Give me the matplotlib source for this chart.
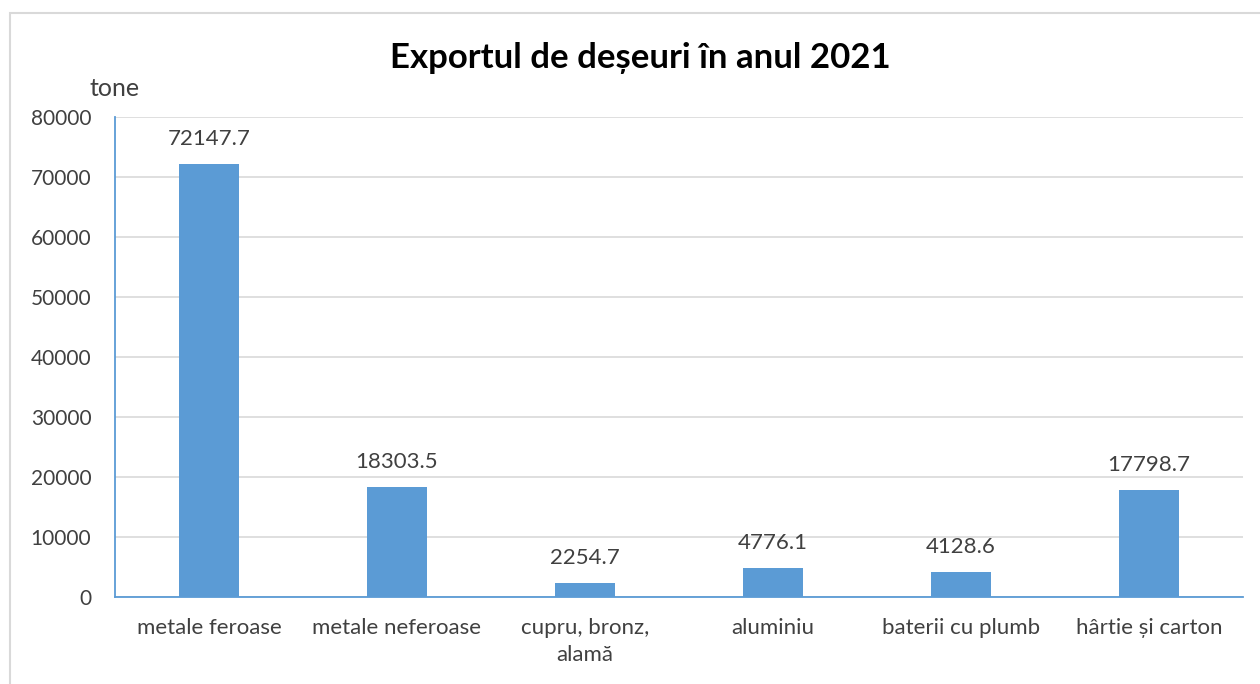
import matplotlib.pyplot as plt
from matplotlib.patches import Rectangle

categories = ['metale feroase', 'metale neferoase', 'cupru, bronz,\nalamă',
              'aluminiu', 'baterii cu plumb', 'hârtie și carton']
values = [72147.7, 18303.5, 2254.7, 4776.1, 4128.6, 17798.7]
yticks = [0, 10000, 20000, 30000, 40000, 50000, 60000, 70000, 80000]

plt.rcParams['font.family'] = ['Lato', 'DejaVu Sans']
txt = '#404040'
blue = '#5B9BD5'

fig = plt.figure(figsize=(12.6, 6.84), dpi=100)
ax = fig.add_axes([115 / 1260, 1 - 597 / 684, 1128 / 1260, 480 / 684])

x = range(len(categories))
ax.bar(x, values, width=0.315, color=blue, zorder=3)
for i, v in zip(x, values):
    ax.annotate(f'{v:.1f}', (i, v), xytext=(0, 11), textcoords='offset points',
                ha='center', va='bottom', fontsize=16, color=txt)

ax.set_xlim(-0.5, len(categories) - 0.5)
ax.set_ylim(0, 80000)
ax.set_yticks(yticks)
ax.set_yticklabels([str(t) for t in yticks], fontsize=15, color=txt)
ax.set_xticks(list(x))
ax.set_xticklabels(categories, fontsize=16, color=txt, linespacing=1.45)
ax.tick_params(axis='both', length=0)
ax.tick_params(axis='x', pad=15)
ax.tick_params(axis='y', pad=17)
ax.grid(axis='y', color='#D9D9D9', linewidth=1.2, zorder=0)
for s in ['top', 'right']:
    ax.spines[s].set_visible(False)
for s in ['left', 'bottom']:
    ax.spines[s].set_color(blue)
    ax.spines[s].set_linewidth(1.3)

fig.text(640 / 1260, 1 - 58 / 684, 'Exportul de deșeuri în anul 2021', ha='center', va='center',
         fontsize=25, fontweight='bold', color='black')
fig.text(89 / 1260, 1 - 88 / 684, 'tone', ha='left', va='center', fontsize=18, color=txt)

fig.patches.append(Rectangle((10 / 1260, -0.05), 1.1, 1 - 13 / 684 + 0.05, transform=fig.transFigure,
                             fill=False, edgecolor='#D9D9D9', linewidth=1.5))

fig.savefig('out.png', dpi=100)
